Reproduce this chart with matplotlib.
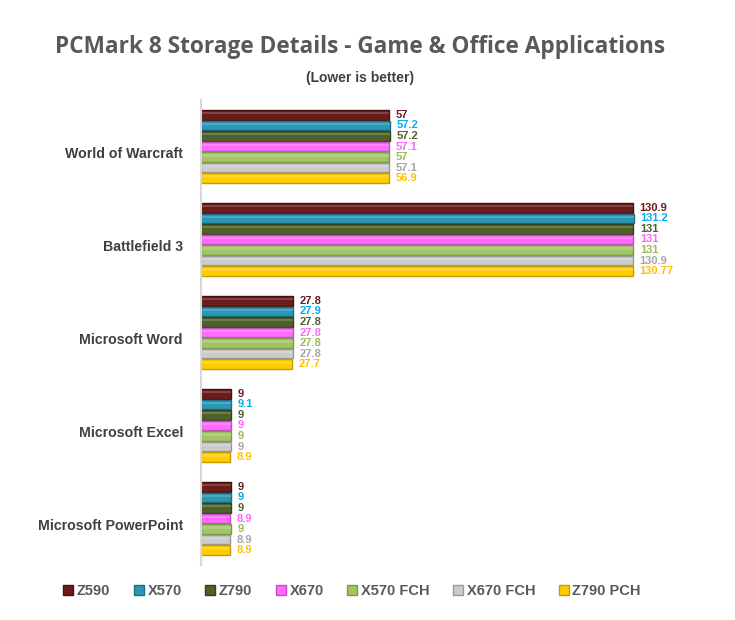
import numpy as np
import matplotlib.pyplot as plt
from matplotlib.lines import Line2D

plt.rcParams['font.family'] = ['Liberation Sans', 'DejaVu Sans']

categories = ['World of Warcraft', 'Battlefield 3', 'Microsoft Word',
              'Microsoft Excel', 'Microsoft PowerPoint']
series = ['Z590', 'X570', 'Z790', 'X670', 'X570 FCH', 'X670 FCH', 'Z790 PCH']
z590 = [57, 130.9, 27.8, 9, 9]
x570 = [57.2, 131.2, 27.9, 9.1, 9]
z790 = [57.2, 131, 27.8, 9, 9]
x670 = [57.1, 131, 27.8, 9, 8.9]
x570_fch = [57, 131, 27.8, 9, 9]
x670_fch = [57.1, 130.9, 27.8, 9, 8.9]
z790_pch = [56.9, 130.77, 27.7, 8.9, 8.9]
values = [z590, x570, z790, x670, x570_fch, x670_fch, z790_pch]
labels = [['57', '130.9', '27.8', '9', '9'],
          ['57.2', '131.2', '27.9', '9.1', '9'],
          ['57.2', '131', '27.8', '9', '9'],
          ['57.1', '131', '27.8', '9', '8.9'],
          ['57', '131', '27.8', '9', '9'],
          ['57.1', '130.9', '27.8', '9', '8.9'],
          ['56.9', '130.77', '27.7', '8.9', '8.9']]

bar_colors = ['#6B1C1C', '#2A97B5', '#4E6128', '#FF6BFF', '#A2C465', '#CCCCCC', '#FFCC00']
edge_colors = ['#4A1010', '#1C6F86', '#34421A', '#C94BC9', '#7A9A45', '#999999', '#C99A00']
text_colors = ['#6B1C1C', '#00B0F0', '#4E6128', '#FF66FF', '#9BBB59', '#A6A6A6', '#FFC000']

fig = plt.figure(figsize=(7.35, 6.2), dpi=100)
ax = fig.add_axes([201 / 735, 1 - 565 / 620, 500 / 735, 465 / 620])

n = len(series)
step = 0.113
height = 0.098
y0 = np.arange(len(categories))
for i in range(n):
    ys = y0 + (i - (n - 1) / 2) * step
    ax.barh(ys, values[i], height=height, color=bar_colors[i],
            edgecolor=edge_colors[i], linewidth=1)
    # highlight stripe to fake the cylinder look
    ax.barh(ys - height * 0.18, values[i], height=height * 0.25,
            color='white', alpha=0.18, linewidth=0)
    for y, v, t in zip(ys, values[i], labels[i]):
        ax.text(v + 2.0, y, t, va='center', ha='left', fontsize=8,
                fontweight='bold', color=text_colors[i])

ax.set_ylim(len(categories) - 0.5, -0.5)
ax.set_xlim(0, 500 / 3.3)
# labels sit a little below the middle of each group in the original
ax.set_yticks(y0 + 0.06)
ax.set_yticklabels(categories, fontsize=10.2, fontweight='bold', color='#404040')
ax.tick_params(axis='y', length=0, pad=13)
ax.set_xticks([])
for s in ['top', 'right', 'bottom']:
    ax.spines[s].set_visible(False)
ax.spines['left'].set_color('#D9D9D9')
ax.spines['left'].set_linewidth(1.5)

fig.text(360 / 735, 1 - 47 / 620, 'PCMark 8 Storage Details - Game & Office Applications',
         ha='center', va='center', fontsize=16.3, fontweight='bold', color='#595959',
         family=['Open Sans', 'DejaVu Sans'])
fig.text(360 / 735, 1 - 78 / 620, '(Lower is better)', ha='center', va='center',
         fontsize=10, fontweight='bold', color='#404040')

handles = [Line2D([], [], marker='s', linestyle='', markersize=7,
                  markerfacecolor=bar_colors[i], markeredgecolor=edge_colors[i])
           for i in range(n)]
fig.legend(handles, series, loc='center', bbox_to_anchor=(352 / 735, 1 - 591 / 620),
           ncol=n, frameon=False, handlelength=0.7, handletextpad=0.25,
           columnspacing=1.6, prop={'weight': 'bold', 'size': 10.5},
           labelcolor='#595959')

fig.savefig('out.png', dpi=100)
